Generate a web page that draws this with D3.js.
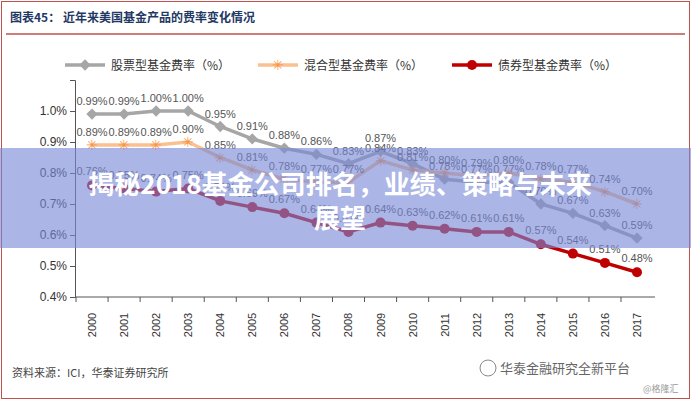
<!DOCTYPE html>
<html><head><meta charset="utf-8">
<script src="https://cdn.jsdelivr.net/npm/d3@7"></script>
<style>
body{margin:0;background:#fff;font-family:"Liberation Sans","Noto Sans CJK SC",sans-serif;}
</style></head><body>
<svg id="c" width="691" height="400"></svg>
<script>
var years = ['2000','2001','2002','2003','2004','2005','2006','2007','2008','2009','2010','2011','2012','2013','2014','2015','2016','2017'];
var stockFee = [0.99,0.99,1.00,1.00,0.95,0.91,0.88,0.86,0.83,0.87,0.83,0.78,0.77,0.77,0.70,0.67,0.63,0.59];
var mixedFee = [0.89,0.89,0.89,0.90,0.85,0.81,0.78,0.77,0.77,0.84,0.81,0.80,0.79,0.80,0.78,0.77,0.74,0.70];
var bondFee = [0.76,0.75,0.74,0.75,0.71,0.69,0.67,0.64,0.61,0.64,0.63,0.62,0.61,0.61,0.57,0.54,0.51,0.48];
var yTicks = [0.4,0.5,0.6,0.7,0.8,0.9,1.0];
var seriesNames = ['股票型基金费率（%）','混合型基金费率（%）','债券型基金费率（%）'];
var colors = ['#a6a6a6','#fac090','#c00000'];

var svg = d3.select('#c');
var cjk = '"Noto Sans CJK SC",sans-serif';

// frame
svg.append('rect').attr('x',1.5).attr('y',1.5).attr('width',688).attr('height',397)
  .attr('fill','none').attr('stroke','#c0504d').attr('stroke-width',1);
svg.append('text').attr('x',10).attr('y',22).attr('font-family',cjk).attr('font-size',12)
  .attr('font-weight','bold').attr('fill','#1f3864').text('图表45：  近年来美国基金产品的费率变化情况');
svg.append('line').attr('x1',6).attr('x2',685).attr('y1',34).attr('y2',34).attr('stroke','#c0504d').attr('stroke-width',1.5);

var x = d3.scalePoint().domain(years).range([92,637]);
var y = d3.scaleLinear().domain([0.4,1.1]).range([297,80]);

svg.append('g').attr('transform','translate(75,0)')
  .call(d3.axisLeft(y).tickValues(yTicks).tickSize(5).tickFormat(function(d){ return d.toFixed(1)+'%'; }))
  .call(function(g){ g.selectAll('text').attr('font-size',12).attr('fill','#333'); g.selectAll('line,path').attr('stroke','#555'); });
svg.append('line').attr('x1',75).attr('x2',655).attr('y1',297).attr('y2',297).attr('stroke','#555');
years.forEach(function(yr){
  svg.append('line').attr('x1',x(yr)-16).attr('x2',x(yr)-16).attr('y1',297).attr('y2',302).attr('stroke','#555');
  svg.append('text').attr('transform','translate('+(x(yr)+4)+',325) rotate(-90)')
    .attr('text-anchor','middle').attr('font-size',11).attr('fill','#333').text(yr);
});

var line = d3.line().x(function(d,i){ return x(years[i]); }).y(function(d){ return y(d); });
var all = [stockFee, mixedFee, bondFee];
all.forEach(function(s, k){
  svg.append('path').datum(s).attr('d',line).attr('fill','none').attr('stroke',colors[k]).attr('stroke-width',3.5);
  s.forEach(function(v,i){
    var cx = x(years[i]), cy = y(v);
    if (k===0) svg.append('rect').attr('x',cx-4).attr('y',cy-4).attr('width',8).attr('height',8)
      .attr('transform','rotate(45,'+cx+','+cy+')').attr('fill',colors[k]);
    else if (k===1) svg.append('text').attr('x',cx).attr('y',cy+5).attr('text-anchor','middle')
      .attr('font-size',14).attr('fill','#f79646').text('✳');
    else svg.append('circle').attr('cx',cx).attr('cy',cy).attr('r',5).attr('fill',colors[k]);
    svg.append('text').attr('x',cx).attr('y',cy-(k===2 ? 10 : 9)).attr('text-anchor','middle')
      .attr('font-size',11).attr('fill','#555').text(v.toFixed(2)+'%');
  });
});

// legend
var lx = [65, 258, 452];
seriesNames.forEach(function(n,k){
  svg.append('line').attr('x1',lx[k]).attr('x2',lx[k]+40).attr('y1',65).attr('y2',65).attr('stroke',colors[k]).attr('stroke-width',3.5);
  if (k===2) svg.append('circle').attr('cx',lx[k]+20).attr('cy',65).attr('r',5).attr('fill',colors[k]);
  else if (k===0) svg.append('rect').attr('x',lx[k]+16).attr('y',61).attr('width',8).attr('height',8)
      .attr('transform','rotate(45,'+(lx[k]+20)+',65)').attr('fill',colors[k]);
  else svg.append('text').attr('x',lx[k]+20).attr('y',70).attr('text-anchor','middle').attr('font-size',14).attr('fill','#f79646').text('✳');
  svg.append('text').attr('x',lx[k]+46).attr('y',70).attr('font-family',cjk).attr('font-size',12).attr('fill','#333').text(n);
});

// source + watermark
svg.append('text').attr('x',12).attr('y',377).attr('font-family',cjk).attr('font-size',11).attr('fill','#444')
  .text('资料来源：ICI，华泰证券研究所');
svg.append('text').attr('x',500).attr('y',373).attr('font-family',cjk).attr('font-size',13).attr('fill','#666')
  .text('华泰金融研究全新平台');
svg.append('circle').attr('cx',488).attr('cy',368).attr('r',8).attr('fill','none').attr('stroke','#888');
svg.append('text').attr('x',643).attr('y',392).attr('font-family',cjk).attr('font-size',9).attr('fill','#999').text('@格隆汇');

// banner overlay
svg.append('rect').attr('x',0).attr('y',148).attr('width',691).attr('height',100).attr('fill','rgba(120,135,215,0.62)');
var t = svg.append('text').attr('text-anchor','middle').attr('font-family',cjk).attr('font-size',26)
  .attr('font-weight','bold').attr('fill','#fff');
t.append('tspan').attr('x',340).attr('y',194).text('揭秘2018基金公司排名，业绩、策略与未来');
t.append('tspan').attr('x',340).attr('y',228).text('展望');
</script>
</body></html>
